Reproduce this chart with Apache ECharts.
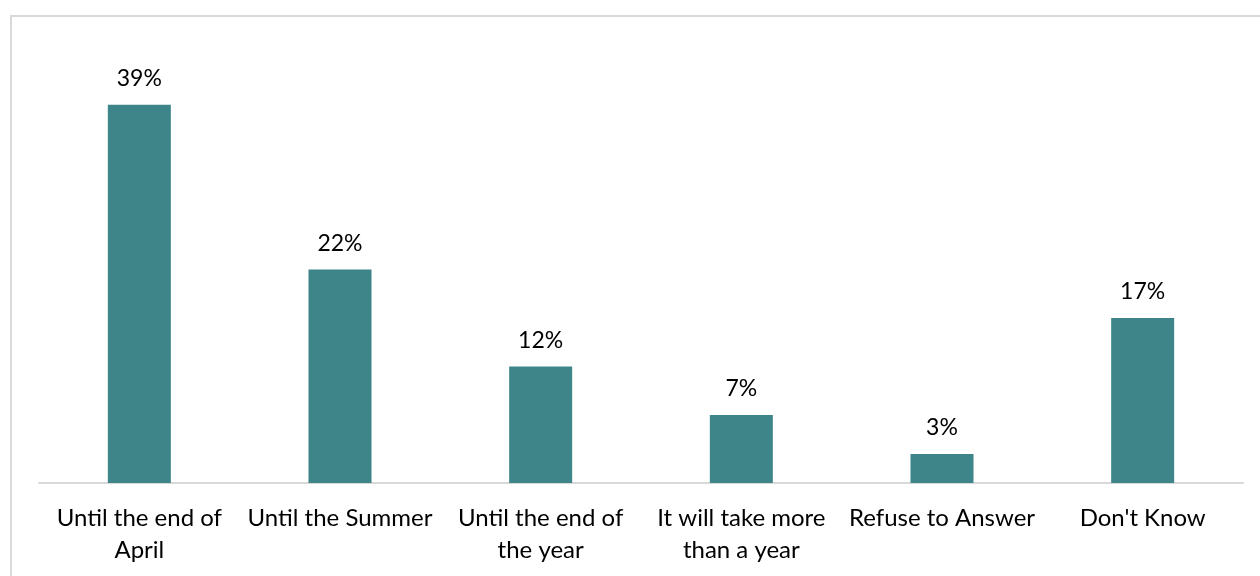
<!DOCTYPE html>
<html>
<head>
<meta charset="utf-8">
<script src="https://cdn.jsdelivr.net/npm/echarts@6/dist/echarts.min.js"></script>
<style>
  html, body { margin: 0; padding: 0; background: #ffffff; }
  #chart { width: 1260px; height: 576px; }
</style>
</head>
<body>
<div id="chart"></div>
<script>
// Survey answers: how long until things return to normal
const categories = [
  'Until the end of\nApril',
  'Until the Summer',
  'Until the end of\nthe year',
  'It will take more\nthan a year',
  'Refuse to Answer',
  "Don't Know"
];
const shares = [39, 22, 12, 7, 3, 17];

const FONT = 'Lato';
const chart = echarts.init(document.getElementById('chart'));

chart.setOption({
  animation: false,
  backgroundColor: '#ffffff',
  graphic: [{
    type: 'rect',
    shape: { x: 11, y: 16, width: 1300, height: 700 },
    style: { fill: 'none', stroke: '#d9d9d9', lineWidth: 2 },
    silent: true
  }],
  grid: { left: 39, right: 17, top: 46.5, bottom: 93, containLabel: false },
  xAxis: {
    type: 'category',
    data: categories,
    axisLine: { lineStyle: { color: '#d9d9d9', width: 2 } },
    axisTick: { show: false },
    axisLabel: {
      interval: 0,
      margin: 19,
      color: '#000000',
      fontFamily: FONT,
      fontSize: 24,
      lineHeight: 32
    }
  },
  yAxis: {
    type: 'value',
    min: 0,
    max: 45,
    show: false,
    splitLine: { show: false }
  },
  series: [{
    type: 'bar',
    data: shares,
    barWidth: 63,
    itemStyle: { color: '#3d8588' },
    label: {
      show: true,
      position: 'top',
      distance: 15,
      formatter: '{c}%',
      color: '#000000',
      fontFamily: FONT,
      fontSize: 23
    }
  }]
});
</script>
</body>
</html>
